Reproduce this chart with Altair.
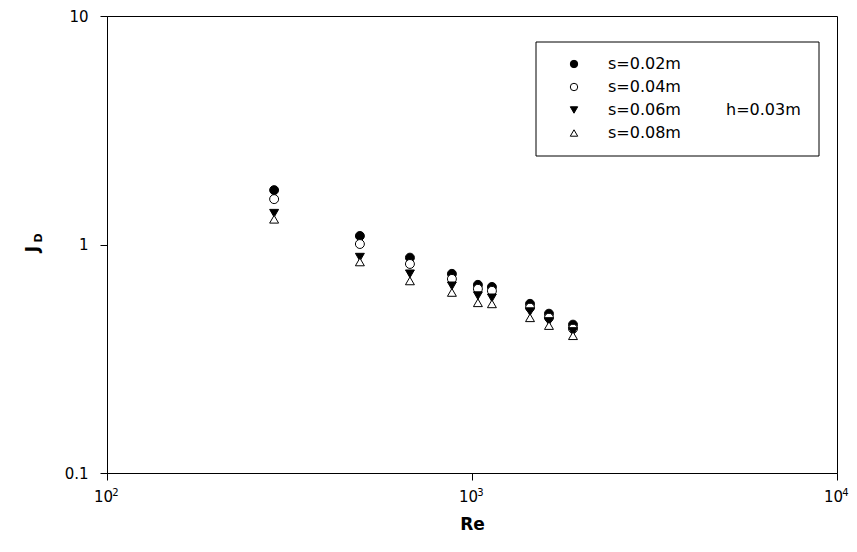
import altair as alt
import pandas as pd

# Data
re_vals = [287, 493, 676, 881, 1038, 1134, 1442, 1625, 1891]
jd_s002 = [1.73, 1.09, 0.876, 0.744, 0.666, 0.652, 0.550, 0.498, 0.446]
jd_s004 = [1.58, 1.005, 0.822, 0.707, 0.640, 0.627, 0.529, 0.478, 0.428]
jd_s006 = [1.37, 0.88, 0.744, 0.659, 0.597, 0.584, 0.508, 0.460, 0.416]
jd_s008 = [1.29, 0.839, 0.693, 0.617, 0.556, 0.550, 0.478, 0.442, 0.399]
series_names = ["s=0.02m", "s=0.04m", "s=0.06m", "s=0.08m"]
series_shapes = ["circle", "circle", "triangle-down", "triangle-up"]
series_fills = ["black", "white", "black", "white"]
x_ticks = [100, 1000, 10000]
y_ticks = [0.1, 1, 10]
note_text = "h=0.03m"

rows = []
for name, vals in zip(series_names, [jd_s002, jd_s004, jd_s006, jd_s008]):
    for r, j in zip(re_vals, vals):
        rows.append({"Re": r, "JD": j, "series": name})
df = pd.DataFrame(rows)

FONT = "DejaVu Sans"

legend_kw = dict(title=None, orient="none", legendX=459, legendY=40,
                 symbolSize=55, symbolStrokeWidth=1,
                 labelFontSize=16, labelFont=FONT, labelColor="black",
                 labelOffset=26, rowPadding=7, padding=0)

xscale = alt.Scale(type="log", domain=[100, 10000], nice=False)
yscale = alt.Scale(type="log", domain=[0.1, 10], nice=False)
yaxis = alt.Axis(values=y_ticks, title=None, labelPadding=12,
                 labelExpr="datum.value < 0.5 ? '0.1' : datum.value < 5 ? '1' : '10'")

points = alt.Chart(df).mark_point(
    filled=True, stroke="black", strokeWidth=1, size=80, opacity=1
).encode(
    x=alt.X("Re:Q", scale=xscale,
            axis=alt.Axis(values=x_ticks, title="Re", labelPadding=9, labelFlush=False,
                          labelOffset=-4, labelExpr="'10'", orient="bottom")),
    y=alt.Y("JD:Q", scale=yscale, axis=yaxis),
    shape=alt.Shape("series:N", scale=alt.Scale(domain=series_names, range=series_shapes),
                    legend=alt.Legend(**legend_kw)),
    fill=alt.Fill("series:N", scale=alt.Scale(domain=series_names, range=series_fills),
                  legend=alt.Legend(**legend_kw)),
    order=alt.Order("order_idx:Q"),
).transform_calculate(
    order_idx="indexof(['s=0.02m','s=0.04m','s=0.06m','s=0.08m'], datum.series)"
)

# superscript exponents of the x tick labels, drawn as a second bottom axis
exponents = alt.Chart(df).mark_point(opacity=0).encode(
    x=alt.X("Re:Q", scale=xscale,
            axis=alt.Axis(values=x_ticks, title=None, orient="bottom", domain=False,
                          ticks=False, labelFlush=False, labelFontSize=10,
                          labelPadding=14, labelOffset=8,
                          labelExpr="format(log(datum.value) / LN10, 'd')")),
    y=alt.Y("JD:Q", scale=yscale, axis=yaxis),
)

box = alt.Chart(pd.DataFrame({"a": [0]})).mark_rect(
    fill=None, stroke="black", strokeWidth=1
).encode(x=alt.value(429), x2=alt.value(712), y=alt.value(26), y2=alt.value(140))

note = alt.Chart(pd.DataFrame({"t": [note_text]})).mark_text(
    align="left", baseline="middle", fontSize=16, font=FONT, color="black"
).encode(text="t:N", x=alt.value(619), y=alt.value(94))

j_text = alt.Chart(pd.DataFrame({"t": ["J"]})).mark_text(
    align="center", baseline="middle", fontSize=17, font=FONT, fontWeight="bold",
    angle=270, color="black"
).encode(text="t:N", x=alt.value(-74), y=alt.value(233))

d_text = alt.Chart(pd.DataFrame({"t": ["D"]})).mark_text(
    align="center", baseline="middle", fontSize=11, font=FONT, fontWeight="bold",
    angle=270, color="black"
).encode(text="t:N", x=alt.value(-68), y=alt.value(222))

chart = alt.layer(points, exponents, box, note, j_text, d_text).resolve_axis(
    x="independent"
).properties(
    width=730, height=457,
    autosize=alt.AutoSizeParams(type="none"),
    padding={"left": 99, "top": 8, "right": 12, "bottom": 60},
).configure_view(
    stroke="black", strokeWidth=1
).configure_axis(
    grid=False, domainColor="black", tickColor="black", labelColor="black",
    titleColor="black", labelFont=FONT, titleFont=FONT, labelFontSize=15,
    tickSize=7, domainWidth=1, tickWidth=1
).configure_axisX(
    titleFontSize=17, titleFontWeight="bold", titlePadding=12
)

chart.save("out.html", embed_options={"renderer": "svg", "actions": False})
